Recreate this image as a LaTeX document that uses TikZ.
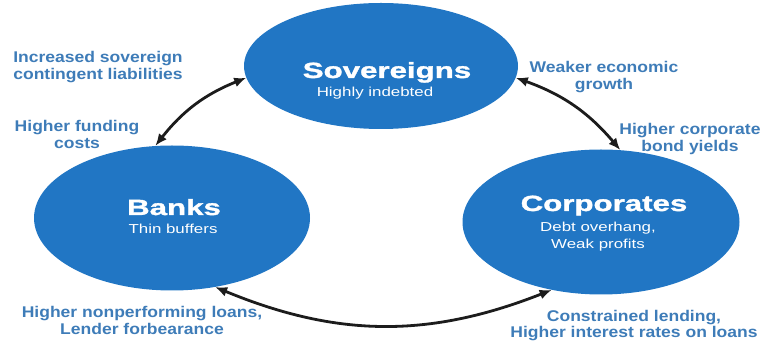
\documentclass[tikz,border=0pt]{standalone}
\usepackage{fontspec}
\setmainfont{Liberation Sans}
\newfontfamily\titlefont[FakeStretch=1.42, FakeBold=1.5]{Liberation Sans}
\newfontfamily\subfont[FakeStretch=1.3]{Liberation Sans}
\newfontfamily\lblfont[FakeStretch=1.13]{Liberation Sans}
\usetikzlibrary{positioning, shapes.geometric, arrows.meta}
\definecolor{csector}{RGB}{33,118,196}
\definecolor{clabel}{RGB}{62,124,184}
\definecolor{carrow}{RGB}{28,28,28}

\begin{document}
\begin{tikzpicture}[x=1pt, y=1pt, >={Latex[length=12pt, width=10pt]},
    sector/.style={ellipse, fill=csector, draw=none, inner sep=0pt},
    sectitle/.style={anchor=base, text=white, inner sep=0pt,
      font=\titlefont\bfseries\fontsize{22}{22}\selectfont},
    secsub/.style={anchor=base, text=white, inner sep=0pt, align=center,
      font=\subfont\fontsize{13}{17}\selectfont},
    chanlbl/.style={anchor=base, text=clabel, inner sep=0pt, align=center,
      font=\lblfont\bfseries\fontsize{15.5}{17}\selectfont},
    feedback/.style={<->, line width=2.8pt, draw=carrow}]

  \useasboundingbox (0,0) rectangle (765,345);

  % --- Sectores ---
  \node[sector, minimum width=274pt, minimum height=126pt] (sov) at (381,279) {};
  \node[sector, minimum width=276pt, minimum height=145pt] (banks) at (172,127) {};
  \node[sector, minimum width=277pt, minimum height=145pt] (corp) at (601,123) {};

  \node[sectitle] (sovT) at (387,267) {Sovereigns};
  \node[secsub] (sovS) at (375,248) {Highly indebted};
  \node[sectitle] (banksT) at (174,130) {Banks};
  \node[secsub] (banksS) at (173,111) {Thin buffers};
  \node[sectitle] (corpT) at (604,134) {Corporates};
  \node[secsub] (corpS) at (598,96) {Debt overhang,\\Weak profits};

  % --- Canales (base = última línea) ---
  \node[chanlbl] (contingent) at (98,265) {Increased sovereign\\contingent liabilities};
  \node[chanlbl] (funding) at (77,196) {Higher funding\\costs};
  \node[chanlbl] (growth) at (604,255) {Weaker economic\\growth};
  \node[chanlbl] (yields) at (690,193) {Higher corporate\\bond yields};
  \node[chanlbl] (npl) at (142,10) {Higher nonperforming loans,\\Lender forbearance};
  \node[chanlbl] (lending) at (634,7) {Constrained lending,\\Higher interest rates on loans};

  \draw[feedback] (banks.103) to[bend left=15] (sov.185);
  \draw[feedback] (sov.355) to[bend left=15] (corp.75);
  \draw[feedback] (banks.-58) to[bend right=22] (corp.234);
\end{tikzpicture}
\end{document}
